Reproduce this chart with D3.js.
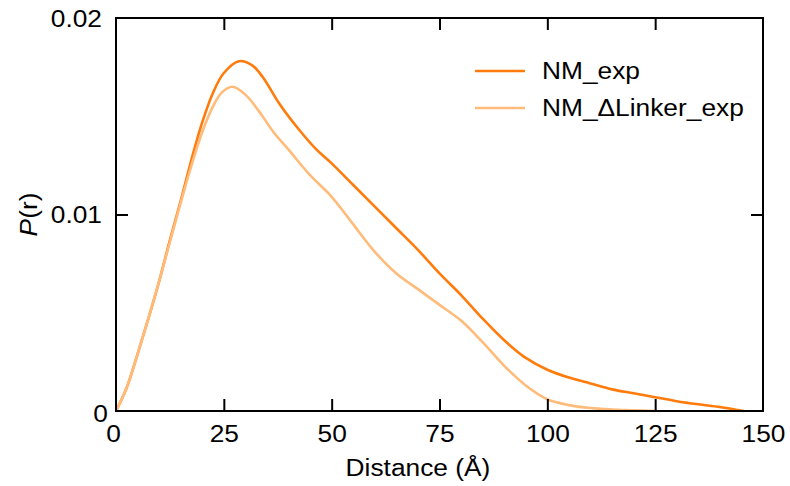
<!DOCTYPE html>
<html>
<head>
<meta charset="utf-8">
<script src="https://cdn.jsdelivr.net/npm/d3@7"></script>
<style>
  body { margin: 0; background: #fff; }
  text { font-family: "Liberation Sans", Arial, sans-serif; }
</style>
</head>
<body>
<svg width="790" height="486"></svg>
<script>
// distance (Å) and P(r) values
var distNM = [0, 2.5, 5, 7.5, 10, 12.5, 15, 17.5, 20, 22.5, 25, 28.5, 31.5, 34, 38, 42.5, 46.5, 50,
  55, 60, 65, 70, 75, 80, 85, 90, 95, 100, 105, 110, 115, 120, 125, 130, 135, 140, 145.5];
var pNM = [0, 0.0012, 0.0029, 0.0047, 0.0066, 0.0087, 0.0107, 0.0128, 0.0147, 0.0162, 0.0172, 0.0178, 0.0176, 0.0170, 0.0156, 0.0143, 0.0133, 0.0126,
  0.0115, 0.0104, 0.0093, 0.0082, 0.0070, 0.0059, 0.0047, 0.0036, 0.0027, 0.0021, 0.0017, 0.0014, 0.0011, 0.0009, 0.0007, 0.0005, 0.00034, 0.0002, 0];

var distDL = [0, 2.5, 5, 7.5, 10, 12.5, 15, 17.5, 20, 22.5, 24.5, 27, 30, 33, 36.5, 40, 45, 50,
  55, 60, 65, 70, 75, 80, 85, 90, 95, 100, 105, 110, 115, 120, 125];
var pDL = [0, 0.0012, 0.0029, 0.0047, 0.0066, 0.0086, 0.0106, 0.0125, 0.0142, 0.0155, 0.0162, 0.0165, 0.0161, 0.0153, 0.0142, 0.0133, 0.0120, 0.0109,
  0.0095, 0.0081, 0.0070, 0.0062, 0.0054, 0.0046, 0.0035, 0.0023, 0.0013, 0.0006, 0.0003, 0.00015, 0.00008, 0.00004, 0];

var seriesNames = ["NM_exp", "NM_\u0394Linker_exp"];
var colors = ["#ff7b0c", "#ffbb7a"];
var xTicks = [0, 25, 50, 75, 100, 125, 150];
var yTicks = [0, 0.01, 0.02];

var fontSize = 23.5,
    stretch = 1.12; // glyphs in the original are a bit wider than Arial

var svg = d3.select("svg"),
    margin = {top: 18, right: 27, bottom: 75, left: 116},
    width = +svg.attr("width") - margin.left - margin.right,
    height = +svg.attr("height") - margin.top - margin.bottom,
    g = svg.append("g").attr("transform", "translate(" + margin.left + "," + margin.top + ")");

var x = d3.scaleLinear().domain([0, 150]).range([0, width]);
var y = d3.scaleLinear().domain([0, 0.02]).range([height, 0]);

var series = [
  {name: seriesNames[0], color: colors[0], pts: distNM.map(function(d, i) { return [d, pNM[i]]; })},
  {name: seriesNames[1], color: colors[1], pts: distDL.map(function(d, i) { return [d, pDL[i]]; })}
];

var line = d3.line()
    .x(function(d) { return x(d[0]); })
    .y(function(d) { return y(d[1]); })
    .curve(d3.curveCatmullRom.alpha(0.5));

g.selectAll(".curve")
  .data(series)
  .enter().append("path")
    .attr("class", "curve")
    .attr("fill", "none")
    .attr("stroke", function(d) { return d.color; })
    .attr("stroke-width", 2.6)
    .attr("d", function(d) { return line(d.pts); });

// put a text at (tx,ty) with horizontal stretch
function stretchText(sel, tx, ty) {
  sel.attr("x", null).attr("y", null)
    .attr("transform", "translate(" + tx + "," + ty + ") scale(" + stretch + ",1)");
}

function styleAxis(sel) {
  sel.select(".domain").remove();
  sel.selectAll(".tick line").attr("stroke", "#000").attr("stroke-width", 2);
  sel.selectAll(".tick text").attr("fill", "#000").attr("font-size", fontSize)
    .attr("font-family", "Liberation Sans, Arial, sans-serif");
}

var yFmt = function(d) { return d === 0 ? "0" : d3.format(".2f")(d); };

// bottom
var xb = g.append("g")
    .attr("transform", "translate(0," + height + ")")
    .call(d3.axisBottom(x).tickValues(xTicks).tickSizeInner(-12))
    .call(styleAxis);
xb.selectAll(".tick").filter(function(d) { return d === 0 || d === 150; }).select("line").remove();
xb.selectAll(".tick text").attr("dy", null).attr("dominant-baseline", "central")
  .each(function(d) { stretchText(d3.select(this), d === 0 ? -3 : 0, 23); });

// top
g.append("g")
    .call(d3.axisTop(x).tickValues(xTicks).tickFormat("").tickSizeInner(-12))
    .call(styleAxis)
    .selectAll(".tick").filter(function(d) { return d === 0 || d === 150; }).remove();

// left
var yl = g.append("g")
    .call(d3.axisLeft(y).tickValues(yTicks).tickFormat(yFmt).tickSizeInner(-12))
    .call(styleAxis);
yl.selectAll(".tick").filter(function(d) { return d === 0 || d === 0.02; }).select("line").remove();
yl.selectAll(".tick text").attr("dy", null).attr("dominant-baseline", "central")
  .each(function(d) { stretchText(d3.select(this), d === 0 ? -8 : -14, d === 0 ? 2 : 0); });

// right
g.append("g")
    .attr("transform", "translate(" + width + ",0)")
    .call(d3.axisRight(y).tickValues(yTicks).tickFormat("").tickSizeInner(-12))
    .call(styleAxis)
    .selectAll(".tick").filter(function(d) { return d === 0 || d === 0.02; }).remove();

// frame
g.append("rect")
    .attr("width", width)
    .attr("height", height)
    .attr("fill", "none")
    .attr("stroke", "#000")
    .attr("stroke-width", 2);

// axis titles
svg.append("text")
    .attr("text-anchor", "middle")
    .attr("dominant-baseline", "central")
    .attr("font-size", fontSize)
    .attr("transform", "translate(" + (margin.left + x(70)) + ",468) scale(" + stretch + ",1)")
    .text("Distance (\u00C5)");

var ylab = svg.append("text")
    .attr("transform", "translate(29," + (margin.top + y(0.01)) + ") rotate(-90) scale(" + stretch + ",1)")
    .attr("text-anchor", "middle")
    .attr("dominant-baseline", "central")
    .attr("font-size", fontSize);
ylab.append("tspan").attr("font-style", "italic").text("P");
ylab.append("tspan").text("(r)");

// legend
var legend = svg.append("g")
  .selectAll("g")
  .data(series)
  .enter().append("g")
    .attr("transform", function(d, i) { return "translate(475," + (71 + i * 37) + ")"; });

legend.append("line")
    .attr("x1", 0).attr("x2", 50)
    .attr("stroke", function(d) { return d.color; })
    .attr("stroke-width", 2.6);

legend.append("text")
    .attr("transform", "translate(67,0) scale(" + stretch + ",1)")
    .attr("dominant-baseline", "central")
    .attr("font-size", fontSize)
    .text(function(d) { return d.name; });
</script>
</body>
</html>
